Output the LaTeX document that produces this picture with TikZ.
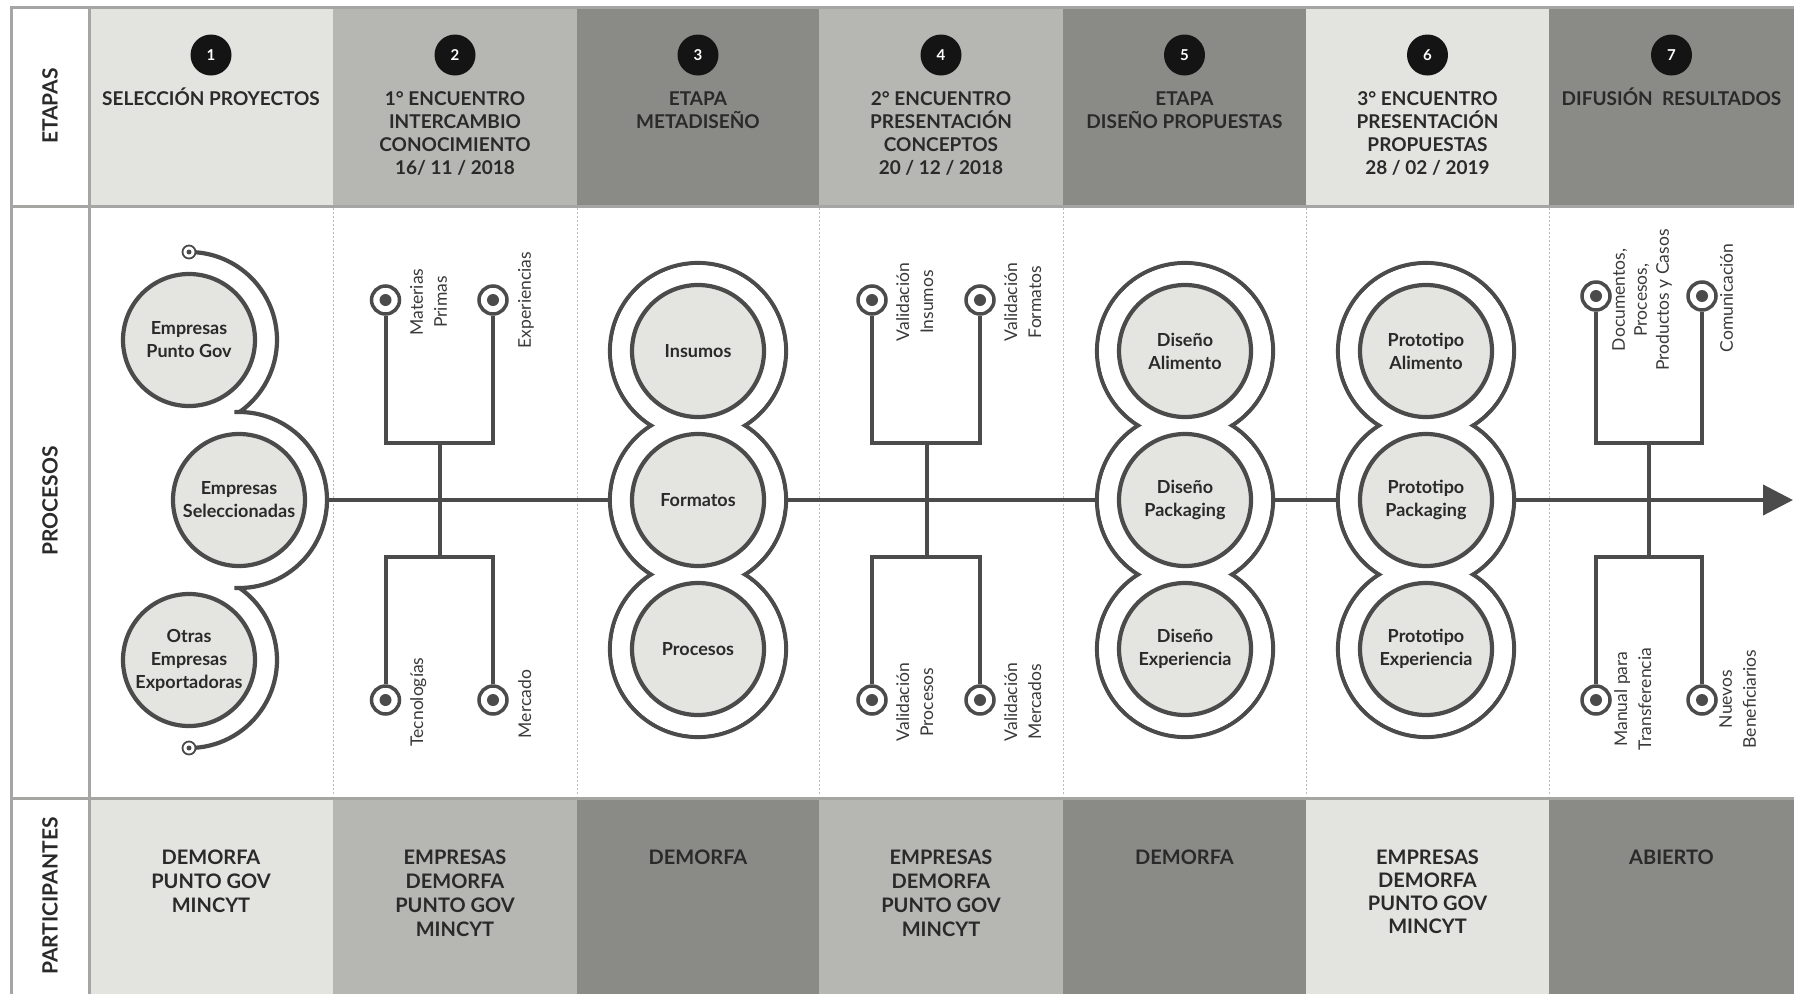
\documentclass[tikz,border=0pt]{standalone}
\usepackage{fontspec}
\setmainfont{Lato}
\usetikzlibrary{arrows.meta}
\definecolor{cLight}{HTML}{E3E4E0}
\definecolor{cMid}{HTML}{B6B7B2}
\definecolor{cDark}{HTML}{8A8B86}
\definecolor{frameC}{HTML}{A5A6A3}
\definecolor{ink}{HTML}{4B4B4B}
\definecolor{txt}{HTML}{2A2A2A}
\definecolor{lblC}{HTML}{3A3A3A}
\definecolor{cFill}{HTML}{E4E4E0}
\definecolor{sepC}{HTML}{B9B9B9}
\newcommand{\hd}[1]{\parbox[t]{240pt}{\centering #1}}
\begin{document}
\begin{tikzpicture}[x=1pt,y=-1pt,
  gridline/.style={draw=frameC,line width=3pt},
  sepline/.style={draw=sepC,line width=1pt,dash pattern=on 2pt off 2pt},
  mainline/.style={draw=ink,line width=4pt},
  hdrtext/.style={anchor=base,inner sep=0pt,text=txt,font=\bfseries\fontsize{19}{23}\selectfont},
  parttext/.style={anchor=base,inner sep=0pt,text=txt,font=\bfseries\fontsize{20}{24}\selectfont},
  sidelabel/.style={rotate=90,inner sep=0pt,text=txt,font=\bfseries\fontsize{21}{24}\selectfont},
  badge/.style={circle,fill=black!92,minimum size=41pt,inner sep=0pt,text=white,font=\bfseries\fontsize{15}{15}\selectfont},
  proc/.style={circle,draw=ink,line width=4.2pt,fill=cFill,minimum size=132pt,inner sep=0pt,align=center,text=txt,font=\bfseries\fontsize{18}{23}\selectfont},
  term/.style={circle,draw=ink,line width=3.5pt,fill=white,minimum size=28pt,inner sep=0pt,path picture={\fill[ink] (path picture bounding box.center) circle (6pt);}},
  endmark/.style={circle,draw=ink,line width=1.8pt,fill=white,minimum size=13pt,inner sep=0pt,path picture={\fill[ink] (path picture bounding box.center) circle (2.5pt);}},
  lbl/.style={rotate=90,anchor=north,inner sep=0pt,align=center,text=lblC,font=\fontsize{17.5}{24}\selectfont},
  arcline/.style={draw=ink,line width=4.2pt},
]
\useasboundingbox (0,0) rectangle (1794,994);
\fill[white] (0,0) rectangle (1794,994);
% header cells
\fill[cLight] (89,7) rectangle (333,206);
\fill[cMid] (333,7) rectangle (577,206);
\fill[cDark] (577,7) rectangle (819,206);
\fill[cMid] (819,7) rectangle (1063,206);
\fill[cDark] (1063,7) rectangle (1306,206);
\fill[cLight] (1306,7) rectangle (1549,206);
\fill[cDark] (1549,7) rectangle (1794,206);
% participant cells
\fill[cLight] (89,798) rectangle (333,994);
\fill[cMid] (333,798) rectangle (577,994);
\fill[cDark] (577,798) rectangle (819,994);
\fill[cMid] (819,798) rectangle (1063,994);
\fill[cDark] (1063,798) rectangle (1306,994);
\fill[cLight] (1306,798) rectangle (1549,994);
\fill[cDark] (1549,798) rectangle (1794,994);
% grid
\draw[gridline] (11,7) -- (1794,7);
\draw[gridline] (11,5.5) -- (11,994);
\draw[gridline] (89,7) -- (89,994);
\draw[gridline] (11,206) -- (1794,206);
\draw[gridline] (11,798) -- (1794,798);
\foreach \x in {333,577,819,1063,1306,1549} \draw[sepline] (\x,208) -- (\x,796);
% side labels
\node[sidelabel] (sEt) at (50,106) {ETAPAS};
\node[sidelabel] (sPr) at (50,501) {PROCESOS};
\node[sidelabel] (sPa) at (50,896) {PARTICIPANTES};
% badges
\node[badge] (b1) at (211,55) {1};
\node[badge] (b2) at (455,55) {2};
\node[badge] (b3) at (698,55) {3};
\node[badge] (b4) at (941,55) {4};
\node[badge] (b5) at (1184.5,55) {5};
\node[badge] (b6) at (1427.5,55) {6};
\node[badge] (b7) at (1671.5,55) {7};
% header texts
\node[hdrtext] (h1) at (211,105) {\hd{SELECCIÓN PROYECTOS}};
\node[hdrtext] (h2) at (455,105) {\hd{1° ENCUENTRO\\INTERCAMBIO\\CONOCIMIENTO\\16/ 11 / 2018}};
\node[hdrtext] (h3) at (698,105) {\hd{ETAPA\\METADISEÑO}};
\node[hdrtext] (h4) at (941,105) {\hd{2° ENCUENTRO\\PRESENTACIÓN\\CONCEPTOS\\20 / 12 / 2018}};
\node[hdrtext] (h5) at (1184.5,105) {\hd{ETAPA\\DISEÑO PROPUESTAS}};
\node[hdrtext] (h6) at (1427.5,105) {\hd{3° ENCUENTRO\\PRESENTACIÓN\\PROPUESTAS\\28 / 02 / 2019}};
\node[hdrtext] (h7) at (1671.5,105) {\hd{DIFUSIÓN\ \ RESULTADOS}};
% participant texts
\node[parttext] (q1) at (211,864) {\hd{DEMORFA\\PUNTO GOV\\MINCYT}};
\node[parttext] (q2) at (455,864) {\hd{EMPRESAS\\DEMORFA\\PUNTO GOV\\MINCYT}};
\node[parttext] (q3) at (698,864) {\hd{DEMORFA}};
\node[parttext] (q4) at (941,864) {\hd{EMPRESAS\\DEMORFA\\PUNTO GOV\\MINCYT}};
\node[parttext] (q5) at (1184.5,864) {\hd{DEMORFA}};
\node[parttext,font=\bfseries\fontsize{20}{23}\selectfont] (q6) at (1427.5,864) {\hd{EMPRESAS\\DEMORFA\\PUNTO GOV\\MINCYT}};
\node[parttext] (q7) at (1671.5,864) {\hd{ABIERTO}};
% main line
\coordinate (mstart) at (327,500);
\coordinate (mend) at (1793,500);
\draw[mainline,-{Triangle[length=30pt,width=30pt]}] (mstart) -- (mend);
% rings (union outline)
\foreach \cx in {698,1185,1426} {
  \foreach \cy in {351,500,649} \draw[ink,line width=4.2pt] (\cx,\cy) circle (88pt);
  \foreach \cy in {351,500,649} \fill[white] (\cx,\cy) circle (85.9pt);
}
% column 1
\node[proc] (e1) at (189,340) {Empresas\\Punto Gov};
\node[proc] (e2) at (239,500) {Empresas\\Seleccionadas};
\node[proc] (e3) at (189,660) {Otras\\Empresas\\Exportadoras};
\draw[arcline] (e1.center) ++(90:88pt) arc[start angle=90,end angle=-54.8,radius=88pt];
\draw[arcline] (e2.center) ++(93:88pt) arc[start angle=93,end angle=-93,radius=88pt];
\draw[arcline] (e3.center) ++(54.8:88pt) arc[start angle=54.8,end angle=-90,radius=88pt];
\node[endmark] (p1) at ([shift={(90:88pt)}]e1.center) {};
\node[endmark] (p2) at ([shift={(-90:88pt)}]e3.center) {};
% column 3
\node[proc] (m1) at (698,351) {Insumos};
\node[proc] (m2) at (698,500) {Formatos};
\node[proc] (m3) at (698,649) {Procesos};
% column 5
\node[proc] (d1) at (1185,351) {Diseño\\Alimento};
\node[proc] (d2) at (1185,500) {Diseño\\Packaging};
\node[proc] (d3) at (1185,649) {Diseño\\Experiencia};
% column 6
\node[proc] (r1) at (1426,351) {Prototipo\\Alimento};
\node[proc] (r2) at (1426,500) {Prototipo\\Packaging};
\node[proc] (r3) at (1426,649) {Prototipo\\Experiencia};
% tree column 2
\node[term] (a1) at (385.5,300) {};
\node[term] (a2) at (493,300) {};
\node[term] (a3) at (385.5,700) {};
\node[term] (a4) at (493,700) {};
\coordinate (a5) at (440,443);
\coordinate (a6) at (440,557);
\draw[mainline] (a1) |- (a5) -| (a2);
\draw[mainline] (a3) |- (a6) -| (a4);
\draw[mainline] (a5) -- (a6);
\node[lbl] (la1) at (410,302) {Materias\\Primas};
\node[lbl] (la2) at (518,300) {Experiencias};
\node[lbl] (la3) at (410,702) {Tecnologías};
\node[lbl] (la4) at (518,704) {Mercado};
% tree column 4
\node[term] (v1) at (872,300) {};
\node[term] (v2) at (980,300) {};
\node[term] (v3) at (872,700) {};
\node[term] (v4) at (980,700) {};
\coordinate (v5) at (927,443);
\coordinate (v6) at (927,557);
\draw[mainline] (v1) |- (v5) -| (v2);
\draw[mainline] (v3) |- (v6) -| (v4);
\draw[mainline] (v5) -- (v6);
\node[lbl] (lv1) at (896,302) {Validación\\Insumos};
\node[lbl] (lv2) at (1004,302) {Validación\\Formatos};
\node[lbl] (lv3) at (896,702) {Validación\\Procesos};
\node[lbl] (lv4) at (1004,702) {Validación\\Mercados};
% tree column 7
\node[term] (w1) at (1596,296) {};
\node[term] (w2) at (1702,296) {};
\node[term] (w3) at (1596,700) {};
\node[term] (w4) at (1702,700) {};
\coordinate (w5) at (1649,443);
\coordinate (w6) at (1649,557);
\draw[mainline] (w1) |- (w5) -| (w2);
\draw[mainline] (w3) |- (w6) -| (w4);
\draw[mainline] (w5) -- (w6);
\node[lbl,font=\fontsize{17.5}{22}\selectfont] (lw1) at (1612,300) {Documentos,\\Procesos,\\Productos y Casos};
\node[lbl] (lw2) at (1720,298) {Comunicación};
\node[lbl] (lw3) at (1614,699) {Manual para\\Transferencia};
\node[lbl] (lw4) at (1719,699) {Nuevos\\Beneficiarios};
\end{tikzpicture}
\end{document}
